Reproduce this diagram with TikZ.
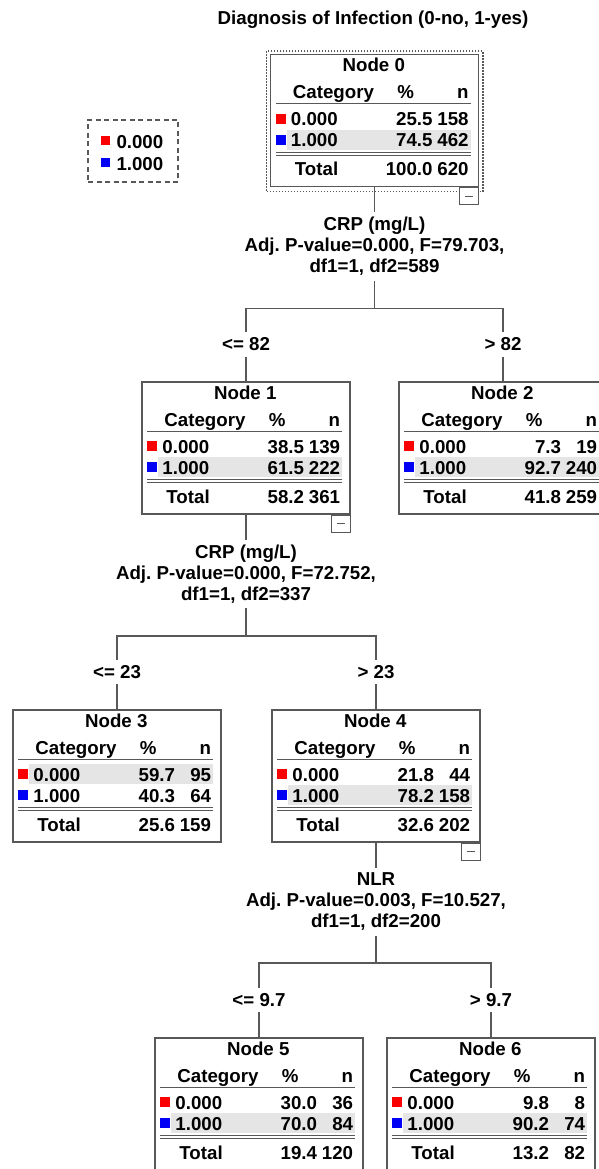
\documentclass[tikz,border=0pt]{standalone}
\usepackage{fontspec}
\setmainfont{Liberation Sans}
\usetikzlibrary{positioning}
\definecolor{linegrey}{RGB}{88,88,88}
\definecolor{bandgrey}{RGB}{229,229,229}
\definecolor{catred}{RGB}{250,0,0}
\definecolor{catblue}{RGB}{0,0,245}
\frenchspacing
\newcommand{\treefont}{\fontsize{18.7}{21}\selectfont\bfseries}

\tikzset{
  catbox/.style={draw=linegrey, line width=1.5pt, fill=white, inner sep=0,
                 minimum width=208, minimum height=132},
  minusbox/.style={draw=linegrey, line width=1.2pt, fill=white, inner sep=0,
                   minimum width=19, minimum height=17, anchor=north east},
  lbl/.style={inner sep=0, font=\treefont},
  splitlbl/.style={inner sep=0, font=\treefont, align=center, minimum height=68},
  branchlbl/.style={inner sep=0, font=\treefont, minimum height=24},
  link/.style={draw=linegrey, line width=1.5pt},
  rule/.style={draw=linegrey, line width=1.3pt},
}

% table inside a tree box: name, node no., rows 0.000 / 1.000, total, y of the shaded row
\newcommand{\nodetable}[9]{%
  \begin{scope}[shift={(#1.north west)}]
    \fill[bandgrey] (17,#9-10) rectangle (201,#9+10);
    \node[lbl, anchor=base] (#1-title) at (104,18) {Node #2};
    \node[lbl, anchor=base west] (#1-cat) at (23,45) {Category};
    \node[lbl, anchor=base] (#1-pct) at (136,45) {\%};
    \node[lbl, anchor=base east] (#1-n) at (199,45) {n};
    \draw[rule] (6,50) -- (201,50);
    \fill[catred] (6,60) rectangle (16,70);
    \node[lbl, anchor=base west] (#1-r0) at (21,72) {0.000};
    \node[lbl, anchor=base east] (#1-p0) at (163,72) {#3};
    \node[lbl, anchor=base east] (#1-c0) at (199,72) {#4};
    \fill[catblue] (6,81) rectangle (16,91);
    \node[lbl, anchor=base west] (#1-r1) at (21,93) {1.000};
    \node[lbl, anchor=base east] (#1-p1) at (163,93) {#5};
    \node[lbl, anchor=base east] (#1-c1) at (199,93) {#6};
    \draw[rule] (6,98.5) -- (201,98.5);
    \draw[rule] (6,101.5) -- (201,101.5);
    \node[lbl, anchor=base west] (#1-tot) at (25,122) {Total};
    \node[lbl, anchor=base east] (#1-pt) at (163,122) {#7};
    \node[lbl, anchor=base east] (#1-ct) at (199,122) {#8};
  \end{scope}}

\begin{document}
\begin{tikzpicture}[x=1pt, y=-1pt]
  \useasboundingbox (0,0) rectangle (599,1169);
  \clip (0,0) rectangle (599,1169);
  \fill[white] (0,0) rectangle (599,1169);

  \node[lbl, anchor=base] (title) at (373,25) {Diagnosis of Infection (0-no, 1-yes)};

  % legend
  \node[draw=linegrey, line width=1.4pt, dash pattern=on 5pt off 3.5pt,
        minimum width=90, minimum height=62, inner sep=0] (legend) at (133,151) {};
  \begin{scope}[shift={(legend.north west)}]
    \fill[catred] (14,17) rectangle (23,26);
    \node[lbl, anchor=base west] (legend-r0) at (29,29) {0.000};
    \fill[catblue] (14,39) rectangle (23,48);
    \node[lbl, anchor=base west] (legend-r1) at (29,51) {1.000};
  \end{scope}

  % boxes
  \node[catbox] (n0) at (374.5,120.5) {};
  \node[catbox] (n1) at (246,448) {};
  \node[catbox] (n2) at (503,448) {};
  \node[catbox] (n3) at (117,776) {};
  \node[catbox] (n4) at (376,776) {};
  \node[catbox] (n5) at (259,1104) {};
  \node[catbox] (n6) at (491,1104) {};

  \nodetable{n0}{0}{25.5}{158}{74.5}{462}{100.0}{620}{86}
  \nodetable{n1}{1}{38.5}{139}{61.5}{222}{58.2}{361}{86}
  \nodetable{n2}{2}{7.3}{19}{92.7}{240}{41.8}{259}{86}
  \nodetable{n3}{3}{59.7}{95}{40.3}{64}{25.6}{159}{65}
  \nodetable{n4}{4}{21.8}{44}{78.2}{158}{32.6}{202}{86}
  \nodetable{n5}{5}{30.0}{36}{70.0}{84}{19.4}{120}{86}
  \nodetable{n6}{6}{9.8}{8}{90.2}{74}{13.2}{82}{86}

  % selected node frame and collapse boxes
  \draw[linegrey, line width=1.5pt, dash pattern=on 1.5pt off 1.5pt]
    ([shift={(-3.5,-2.5)}]n0.north west) rectangle ([shift={(3.5,4.5)}]n0.south east);
  \foreach \k in {n0,n1,n4}{
    \node[minusbox] (\k-m) at (\k.south east) {};
    \draw[rule, line width=1pt] ([xshift=-4pt]\k-m.center) -- ([xshift=4pt]\k-m.center);
  }

  % splits
  \node[splitlbl] (s0) at (374.5,246.5) {CRP (mg/L)\\Adj. P-value=0.000, F=79.703,\\df1=1, df2=589};
  \node[splitlbl] (s1) at (246,574) {CRP (mg/L)\\Adj. P-value=0.000, F=72.752,\\df1=1, df2=337};
  \node[splitlbl] (s4) at (376,902) {NLR\\Adj. P-value=0.003, F=10.527,\\df1=1, df2=200};
  \coordinate (j0) at (374.5,308.5);
  \coordinate (j1) at (246,636);
  \coordinate (j4) at (376,963);
  \node[branchlbl] (b1) at (246,344.5) {<= 82};
  \node[branchlbl] (b2) at (503,344.5) {> 82};
  \node[branchlbl] (b3) at (117,672) {<= 23};
  \node[branchlbl] (b4) at (376,672) {> 23};
  \node[branchlbl] (b5) at (259,1000) {<= 9.7};
  \node[branchlbl] (b6) at (491,1000) {> 9.7};

  \draw[link] (n0.south) -- (s0.north);
  \draw[link] (s0.south) -- (j0) -| (b1.north);
  \draw[link] (j0) -| (b2.north);
  \draw[link] (b1.south) -- (n1.north);
  \draw[link] (b2.south) -- (n2.north);

  \draw[link] (n1.south) -- (s1.north);
  \draw[link] (s1.south) -- (j1) -| (b3.north);
  \draw[link] (j1) -| (b4.north);
  \draw[link] (b3.south) -- (n3.north);
  \draw[link] (b4.south) -- (n4.north);

  \draw[link] (n4.south) -- (s4.north);
  \draw[link] (s4.south) -- (j4) -| (b5.north);
  \draw[link] (j4) -| (b6.north);
  \draw[link] (b5.south) -- (n5.north);
  \draw[link] (b6.south) -- (n6.north);
\end{tikzpicture}
\end{document}
